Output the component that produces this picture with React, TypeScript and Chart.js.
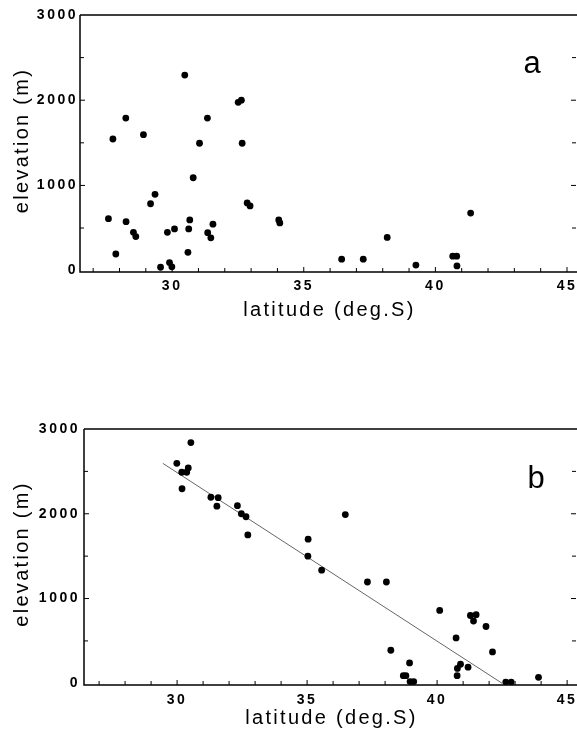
import React, { useEffect, useRef } from 'react';
import { Chart, registerables } from 'chart.js';
Chart.register(...registerables);

// Panel a: latitude (deg.S) vs elevation (m)
const aLat = [27.58, 27.75, 27.86, 28.24, 28.25, 28.53, 28.62, 28.91, 29.18, 29.35, 29.56, 29.82, 29.9, 29.99, 30.09, 30.48, 30.6, 30.63, 30.67, 30.8, 31.04, 31.34, 31.35, 31.47, 31.55, 32.51, 32.63, 32.66, 32.85, 32.96, 34.05, 34.09, 36.44, 37.26, 38.17, 39.26, 40.66, 40.81, 40.82, 41.34];
const aElev = [610, 1545, 195, 1790, 575, 450, 400, 1595, 785, 895, 40, 450, 95, 45, 490, 2295, 215, 490, 595, 1090, 1495, 1790, 445, 385, 545, 1975, 2000, 1495, 795, 760, 595, 560, 135, 135, 390, 65, 170, 170, 55, 675];

// Panel b
const bLat = [29.99, 30.18, 30.19, 30.37, 30.43, 30.53, 31.3, 31.53, 31.58, 32.32, 32.47, 32.65, 32.72, 35.03, 35.04, 35.56, 36.47, 37.32, 38.05, 38.22, 38.7, 38.8, 38.94, 38.96, 39.1, 40.1, 40.73, 40.77, 40.78, 40.9, 41.19, 41.28, 41.4, 41.5, 41.88, 42.13, 42.64, 42.85, 43.9];
const bElev = [2595, 2490, 2295, 2490, 2540, 2840, 2195, 2090, 2190, 2095, 2000, 1965, 1750, 1500, 1700, 1335, 1990, 1195, 1195, 390, 90, 90, 240, 20, 20, 860, 535, 90, 175, 225, 190, 800, 735, 810, 670, 370, 15, 15, 70];

// Regression line in panel b
const fitLat = [29.45, 42.5];
const fitElev = [2595, 0];

// Tick values
const xTickValues = [30, 35, 40, 45];
const yTickValues = [0, 1000, 2000, 3000];
const xMinorValues = [27, 28, 29, 30, 31, 32, 33, 34, 35, 36, 37, 38, 39, 40, 41, 42, 43, 44, 45];
const yMinorValues = [500, 1000, 1500, 2000, 2500];

const FONT = '"Liberation Sans", Arial, Helvetica, sans-serif';

type Spec = {
  id: string;
  letter: string;
  lat: number[];
  elev: number[];
  fit: boolean;
  height: number;
  padTop: number;
  xAxisH: number;
  yAxisW: number;
  xMin: number;
  xMax: number;
  yMin: number;
  xPad: number;
  yPad: number;
  xTitleBase: number;
  yTitleX: number;
  letterX: number;
  letterY: number;
};

function makePlugin(spec: Spec) {
  return {
    id: 'frame_' + spec.id,
    beforeUpdate(chart: any) {
      chart.ctx.letterSpacing = '2.5px';
    },
    beforeDraw(chart: any) {
      chart.ctx.letterSpacing = '2.5px';
    },
    afterDraw(chart: any) {
      const ctx = chart.ctx;
      const ca = chart.chartArea;
      const x = chart.scales.x;
      const y = chart.scales.y;
      ctx.save();
      ctx.strokeStyle = '#000';
      ctx.lineWidth = 1.5;
      ctx.beginPath();
      ctx.moveTo(ca.left, ca.top);
      ctx.lineTo(ca.right, ca.top);
      ctx.moveTo(ca.left, ca.top);
      ctx.lineTo(ca.left, ca.bottom);
      ctx.lineTo(ca.right, ca.bottom);
      ctx.stroke();
      ctx.lineWidth = 1;
      ctx.beginPath();
      for (const v of xMinorValues) {
        const px = x.getPixelForValue(v);
        const len = xTickValues.includes(v) ? 5 : 4;
        ctx.moveTo(px, ca.bottom);
        ctx.lineTo(px, ca.bottom - len);
      }
      for (const v of yMinorValues) {
        const py = y.getPixelForValue(v);
        const len = yTickValues.includes(v) ? 5 : 4;
        ctx.moveTo(ca.left, py);
        ctx.lineTo(ca.left + len, py);
        ctx.moveTo(ca.right - 1, py);
        ctx.lineTo(ca.right - 1 - len, py);
      }
      ctx.stroke();

      ctx.fillStyle = '#000';
      ctx.letterSpacing = '2.3px';
      ctx.font = `20px ${FONT}`;
      ctx.textAlign = 'center';
      ctx.textBaseline = 'alphabetic';
      ctx.fillText('latitude (deg.S)', (ca.left + ca.right) / 2 + 1, ca.bottom + spec.xTitleBase);

      ctx.save();
      ctx.translate(spec.yTitleX, (ca.top + ca.bottom) / 2 - 3);
      ctx.rotate(-Math.PI / 2);
      ctx.fillText('elevation (m)', 0, 0);
      ctx.restore();

      ctx.letterSpacing = '0px';
      ctx.font = `31px ${FONT}`;
      ctx.fillText(spec.letter, spec.letterX, spec.letterY);
      ctx.restore();
    },
  };
}

function Panel({ spec, top }: { spec: Spec; top: number }) {
  const ref = useRef<HTMLCanvasElement>(null);
  useEffect(() => {
    const datasets: any[] = [
      {
        data: spec.lat.map((v, i) => ({ x: v, y: spec.elev[i] })),
        backgroundColor: '#000',
        borderColor: '#000',
        borderWidth: 0,
        pointRadius: 3.4,
        pointHoverRadius: 3.4,
      },
    ];
    if (spec.fit) {
      datasets.push({
        data: fitLat.map((v, i) => ({ x: v, y: fitElev[i] })),
        showLine: true,
        borderColor: '#666',
        borderWidth: 1,
        pointRadius: 0,
        fill: false,
      });
    }
    const tickFont = { family: FONT, size: 14, weight: 'bold' as const };
    const chart = new Chart(ref.current!, {
      type: 'scatter',
      data: { datasets },
      plugins: [makePlugin(spec)],
      options: {
        responsive: false,
        animation: false,
        devicePixelRatio: 1,
        layout: { autoPadding: false, padding: { top: spec.padTop, left: 0, right: 0, bottom: 0 } },
        plugins: { legend: { display: false }, tooltip: { enabled: false } },
        scales: {
          x: {
            type: 'linear',
            min: spec.xMin,
            max: spec.xMax,
            grid: { display: false, drawTicks: false },
            border: { display: false },
            afterBuildTicks: (s: any) => {
              s.ticks = xTickValues.map((v) => ({ value: v }));
            },
            afterFit: (s: any) => {
              s.height = spec.xAxisH;
              s.paddingLeft = 0;
              s.paddingRight = 0;
            },
            ticks: {
              padding: spec.xPad,
              color: '#000',
              font: tickFont,
              maxRotation: 0,
              autoSkip: false,
              callback: (v: any) => String(v),
            },
          },
          y: {
            type: 'linear',
            min: spec.yMin,
            max: 3000,
            grid: { display: false, drawTicks: false },
            border: { display: false },
            afterBuildTicks: (s: any) => {
              s.ticks = yTickValues.map((v) => ({ value: v }));
            },
            afterFit: (s: any) => {
              s.width = spec.yAxisW;
              s.paddingTop = 0;
              s.paddingBottom = 0;
            },
            ticks: {
              padding: spec.yPad,
              color: '#000',
              font: tickFont,
              autoSkip: false,
              callback: (v: any) => String(v),
            },
          },
        },
      } as any,
    });
    return () => chart.destroy();
  }, []);
  return (
    <canvas
      ref={ref}
      width={577}
      height={spec.height}
      style={{ position: 'absolute', left: 0, top, width: 577, height: spec.height, display: 'block' }}
    />
  );
}

const specA: Spec = {
  id: 'a', letter: 'a', lat: aLat, elev: aElev, fit: false,
  height: 340, padTop: 15, xAxisH: 68, yAxisW: 80,
  xMin: 26.5, xMax: 45.38, yMin: -16, xPad: 6, yPad: 2,
  xTitleBase: 44, yTitleX: 27.5, letterX: 532, letterY: 73,
};

const specB: Spec = {
  id: 'b', letter: 'b', lat: bLat, elev: bElev, fit: true,
  height: 335, padTop: 29, xAxisH: 50, yAxisW: 84,
  xMin: 26.42, xMax: 45.38, yMin: -20, xPad: 7, yPad: 4,
  xTitleBase: 39, yTitleX: 28, letterX: 536, letterY: 88,
};

export default function App() {
  return (
    <div style={{ position: 'absolute', left: 0, top: 0, width: 577, height: 735, background: '#fff' }}>
      <Panel spec={specA} top={0} />
      <Panel spec={specB} top={400} />
    </div>
  );
}
